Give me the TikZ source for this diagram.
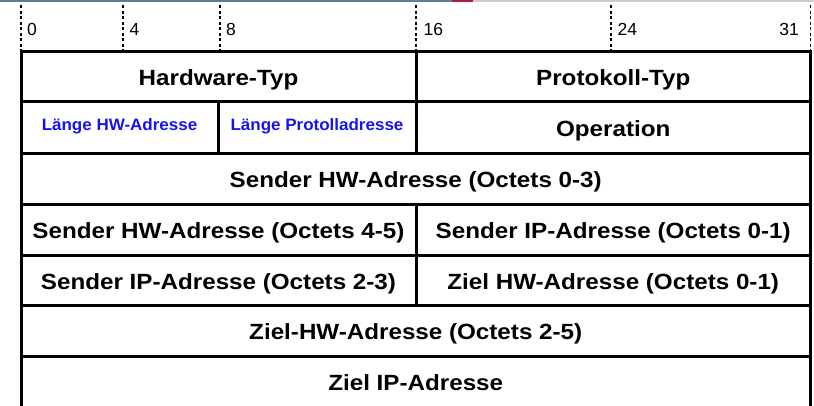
\documentclass[tikz,border=0pt]{standalone}
\usepackage{fontspec}
\setmainfont{Liberation Sans}
\newfontfamily\cellfont[FakeStretch=1.1]{Liberation Sans}
\newfontfamily\smallcellfont[FakeStretch=1.03]{Liberation Sans}
\definecolor{fieldblue}{RGB}{20,20,235}
\definecolor{stripblue}{RGB}{90,125,155}
\definecolor{stripred}{RGB}{170,30,60}
\definecolor{stripgray}{RGB}{205,205,205}
\begin{document}
\begin{tikzpicture}[x=1pt,y=-1pt,
  cellline/.style={line width=3pt, black},
  tickline/.style={line width=1.8pt, black, dash pattern=on 3pt off 2.5pt},
  celltext/.style={font=\cellfont\bfseries\fontsize{22}{22}\selectfont, text height=15.75pt, text depth=0pt, inner sep=0pt, anchor=center, yshift=-1pt},
  bluetext/.style={font=\smallcellfont\bfseries\fontsize{16.5}{16.5}\selectfont, text=fieldblue, text height=11.8pt, text depth=0pt, inner sep=0pt, anchor=center, yshift=3pt},
  bitlabel/.style={font=\fontsize{17.5}{17.5}\selectfont, inner sep=0pt}
]
\useasboundingbox (0,0) rectangle (814,405);
\clip (0,0) rectangle (814,405);

% top strip
\fill[stripblue] (0,0) rectangle (452,1.5);
\fill[stripred] (452,0) rectangle (473,1.5);
\fill[stripgray] (473,0) rectangle (814,1.5);

% bit ticks
\foreach \n/\x in {t0/21, t4/123.3, t8/220, t16/416, t24/611, t31/810.5}{
  \coordinate (\n top) at (\x,5);
  \coordinate (\n bot) at (\x,51);
  \draw[tickline] (\n top) -- (\n bot);
}
\node[bitlabel, anchor=base west] (l0) at (27,35.5) {0};
\node[bitlabel, anchor=base west] (l4) at (129.5,35.5) {4};
\node[bitlabel, anchor=base west] (l8) at (226,35.5) {8};
\node[bitlabel, anchor=base west] (l16) at (423.5,35.5) {16};
\node[bitlabel, anchor=base west] (l24) at (617.5,35.5) {24};
\node[bitlabel, anchor=base east] (l31) at (799,35.5) {31};

% cells
\draw[cellline] (21,51) rectangle (416,101.5);
\draw[cellline] (416,51) rectangle (810.5,101.5);
\draw[cellline] (21,101.5) rectangle (218,153);
\draw[cellline] (218,101.5) rectangle (416,153);
\draw[cellline] (416,101.5) rectangle (810.5,153);
\draw[cellline] (21,153) rectangle (810.5,204);
\draw[cellline] (21,204) rectangle (416,255);
\draw[cellline] (416,204) rectangle (810.5,255);
\draw[cellline] (21,255) rectangle (416,305.5);
\draw[cellline] (416,255) rectangle (810.5,305.5);
\draw[cellline] (21,305.5) rectangle (810.5,356);
\draw[cellline] (21,356) rectangle (810.5,407);

\node[celltext] (hwtyp) at (218.5,76.25) {Hardware-Typ};
\node[celltext] (prtyp) at (613.25,76.25) {Protokoll-Typ};
\node[bluetext] (hwlen) at (119.5,127.25) {Länge HW-Adresse};
\node[bluetext] (prlen) at (317,127.25) {Länge Protolladresse};
\node[celltext] (oper) at (613.25,127.25) {Operation};
\node[celltext] (shw03) at (415.75,178.5) {Sender HW-Adresse (Octets 0-3)};
\node[celltext] (shw45) at (218.5,229.5) {Sender HW-Adresse (Octets 4-5)};
\node[celltext] (sip01) at (613.25,229.5) {Sender IP-Adresse (Octets 0-1)};
\node[celltext] (sip23) at (218.5,280.25) {Sender IP-Adresse (Octets 2-3)};
\node[celltext] (zhw01) at (613.25,280.25) {Ziel HW-Adresse (Octets 0-1)};
\node[celltext] (zhw25) at (415.75,330.75) {Ziel-HW-Adresse (Octets 2-5)};
\node[celltext] (zip) at (415.75,381.25) {Ziel IP-Adresse};
\end{tikzpicture}
\end{document}
